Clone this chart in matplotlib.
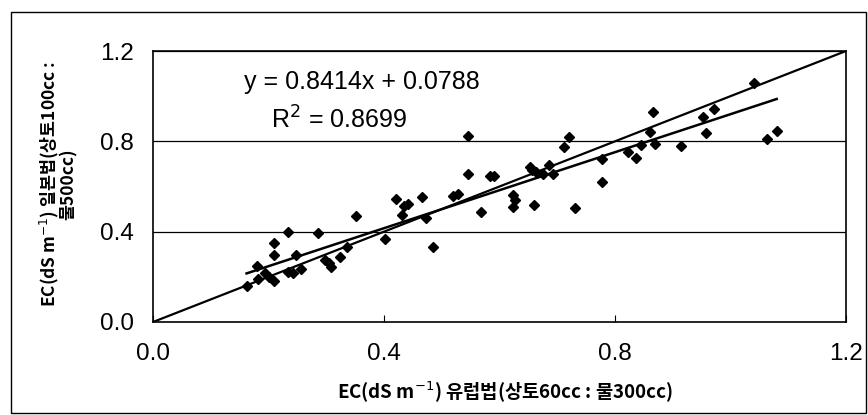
import numpy as np
import matplotlib
matplotlib.use("Agg")
import matplotlib.pyplot as plt
from matplotlib.patches import Rectangle

plt.rcParams['font.family'] = ['Liberation Sans', 'DejaVu Sans']

# EC by the European method (x) vs the Japanese method (y), dS m-1
ec_europe = [0.162, 0.180, 0.182, 0.194, 0.201, 0.210, 0.210, 0.210, 0.233, 0.233,
             0.242, 0.248, 0.257, 0.286, 0.298, 0.304, 0.309, 0.324, 0.336, 0.352,
             0.402, 0.421, 0.434, 0.441, 0.432, 0.465, 0.473, 0.485, 0.519, 0.529,
             0.546, 0.584, 0.590, 0.568, 0.546, 0.624, 0.627, 0.624, 0.652, 0.656,
             0.664, 0.676, 0.660, 0.686, 0.692, 0.712, 0.721, 0.730, 0.777, 0.777,
             0.823, 0.836, 0.845, 0.861, 0.866, 0.869, 0.915, 0.953, 0.957, 0.971,
             1.041, 1.064, 1.080]
ec_japan = [0.159, 0.248, 0.189, 0.218, 0.200, 0.183, 0.351, 0.296, 0.397, 0.223,
            0.218, 0.296, 0.233, 0.392, 0.274, 0.262, 0.245, 0.289, 0.333, 0.470,
            0.367, 0.543, 0.513, 0.522, 0.473, 0.552, 0.459, 0.333, 0.558, 0.569,
            0.655, 0.648, 0.645, 0.485, 0.824, 0.562, 0.540, 0.510, 0.687, 0.673,
            0.665, 0.655, 0.518, 0.695, 0.655, 0.773, 0.820, 0.503, 0.720, 0.621,
            0.754, 0.724, 0.783, 0.842, 0.931, 0.788, 0.780, 0.908, 0.839, 0.941,
            1.060, 0.810, 0.845]

slope = 0.8414
intercept = 0.0788
r_squared = 0.8699
ticks = [0.0, 0.4, 0.8, 1.2]

fig = plt.figure(figsize=(8.68, 4.15), dpi=100)
ax = fig.add_axes([153 / 868, 1 - 322 / 415, 693 / 868, 271 / 415])

# outer frame of the figure
fig.add_artist(Rectangle((11 / 868, 2 / 415), 855 / 868, 401 / 415,
                         transform=fig.transFigure, fill=False,
                         edgecolor='black', linewidth=1.0))

ax.set_xlim(0, 1.2)
ax.set_ylim(0, 1.2)

for yv in ticks[1:]:
    ax.axhline(yv, color='black', linewidth=0.9, zorder=1)

# 1:1 line
ax.plot([0, 1.2], [0, 1.2], color='black', linewidth=1.6, zorder=2)

# linear trendline
xs = np.array([min(ec_europe), max(ec_europe)])
ax.plot(xs, slope * xs + intercept, color='black', linewidth=1.8, zorder=2)

ax.plot(ec_europe, ec_japan, linestyle='none', marker='D', markersize=5.5,
        color='black', zorder=3)

ax.set_xticks(ticks)
ax.set_yticks(ticks)
ax.set_xticklabels(['%.1f' % t for t in ticks])
ax.set_yticklabels(['%.1f' % t for t in ticks])
ax.tick_params(axis='x', direction='in', length=5, pad=15, labelsize=17.5)
ax.tick_params(axis='y', direction='in', length=0, pad=14, labelsize=17.5)
for s in ax.spines.values():
    s.set_linewidth(1.2)

ax.text(0.157, 1.062, 'y = %.4fx + %.4f' % (slope, intercept), fontsize=18,
        va='center', ha='left')
ax.text(0.204, 0.894, 'R$^2$ = %.4f' % r_squared, fontsize=18,
        va='center', ha='left')

kfont = dict(family='Noto Sans CJK KR', weight='bold', size=13.5)
fig.text(505 / 868, 1 - 392 / 415, 'EC(dS m$^{-1}$) 유럽법(상토60cc : 물300cc)',
         ha='center', va='center', **kfont)
kfont_y = dict(kfont, size=12.5)
fig.text(58 / 868, 1 - 184 / 415, 'EC(dS m$^{-1}$) 일본법(상토100cc :\n물500cc)',
         ha='center', va='center', rotation=90, multialignment='center',
         linespacing=0.95, **kfont_y)

fig.savefig('out.png', dpi=100)
